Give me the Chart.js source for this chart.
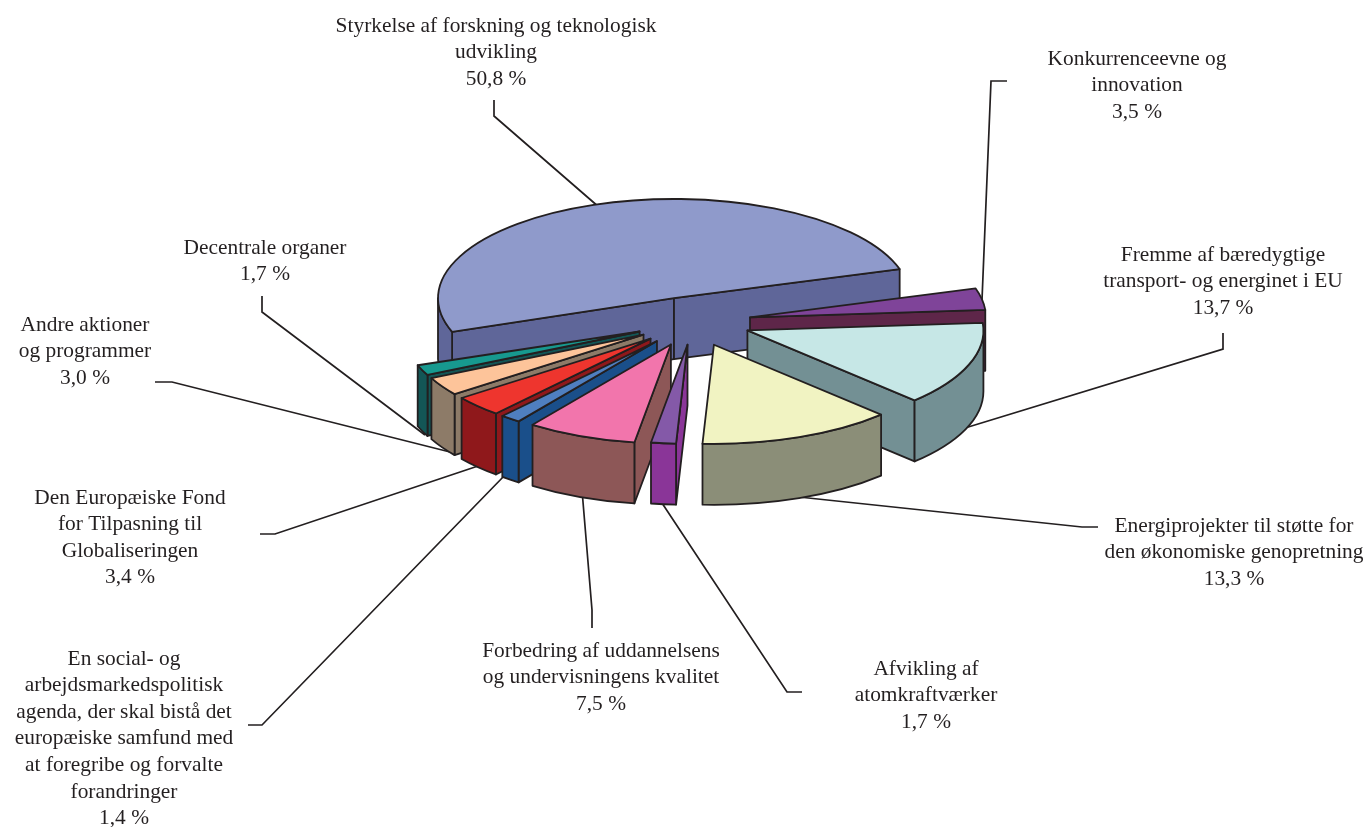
<!DOCTYPE html>
<html>
<head>
<meta charset="utf-8">
<style>
  html,body{margin:0;padding:0;background:#fff}
  canvas{display:block}
</style>
<script src="https://cdn.jsdelivr.net/npm/chart.js@4"></script>
</head>
<body>
<canvas id="pie" width="1372" height="827"></canvas>
<script>
const categories = [
  ["Styrkelse af forskning og teknologisk", "udvikling"],
  ["Konkurrenceevne og", "innovation"],
  ["Fremme af bæredygtige", "transport- og energinet i EU"],
  ["Energiprojekter til støtte for", "den økonomiske genopretning"],
  ["Afvikling af", "atomkraftværker"],
  ["Forbedring af uddannelsens", "og undervisningens kvalitet"],
  ["En social- og", "arbejdsmarkedspolitisk", "agenda, der skal bistå det", "europæiske samfund med", "at foregribe og forvalte", "forandringer"],
  ["Den Europæiske Fond", "for Tilpasning til", "Globaliseringen"],
  ["Andre aktioner", "og programmer"],
  ["Decentrale organer"]
]
const values = [50.8, 3.5, 13.7, 13.3, 1.7, 7.5, 1.4, 3.4, 3.0, 1.7]
const valueLabels = ["50,8 %", "3,5 %", "13,7 %", "13,3 %", "1,7 %", "7,5 %", "1,4 %", "3,4 %", "3,0 %", "1,7 %"]

// styles
const topColors = ["#8f9acb", "#7f4499", "#c6e7e6", "#f1f3c2", "#8459a8", "#f275ac", "#4f7fc0", "#ee352e", "#fdc49a", "#17998f"]
const sideColors = ["#5f6699", "#5e2649", "#739094", "#8b8e78", "#8a3598", "#8d5757", "#1a4f8a", "#8f181b", "#8d7b68", "#135656"]
const pull = [60, 58, 58, 58, 54, 58, 58, 58, 58, 58]

// layout of the annotations: x of the text centre, y of the first line, leader line
const labelX = [496, 1137, 1223, 1234, 926, 601, 124, 130, 85, 265]
const labelY = [26, 59, 255, 526, 669, 651, 659, 498, 325, 248]
const leaders = [
  [[494, 100], [494, 116], [600, 208]],
  [[1007, 81], [991, 81], [982, 300]],
  [[1223, 333], [1223, 349], [965, 428]],
  [[1098, 527], [1082, 527], [780, 495]],
  [[802, 692], [787, 692], [660, 500]],
  [[592, 628], [592, 610], [582, 490]],
  [[248, 725], [262, 725], [505, 475]],
  [[260, 534], [275, 534], [490, 462]],
  [[155, 382], [172, 382], [450, 452]],
  [[262, 296], [262, 312], [425, 435]]
]

const radius = 236
const tilt = 0.42
const depth = 61
const ink = "#231f20"
const textFont = '21.4px "Liberation Serif"'
const lineHeight = 26.6

let centreY = 0

function apexOf(arc){
  return {x: arc.x, y: centreY + (arc.y - centreY) * tilt}
}

function drawFace(ctx, p, angle){
  const x = p.x + Math.cos(angle) * radius
  const y = p.y + Math.sin(angle) * radius * tilt
  ctx.beginPath()
  ctx.moveTo(p.x, p.y)
  ctx.lineTo(x, y)
  ctx.lineTo(x, y + depth)
  ctx.lineTo(p.x, p.y + depth)
  ctx.closePath()
  ctx.fill()
  ctx.stroke()
}

function drawOuterWall(ctx, p, from, to){
  ctx.beginPath()
  ctx.ellipse(p.x, p.y, radius, radius * tilt, 0, from, to)
  ctx.ellipse(p.x, p.y + depth, radius, radius * tilt, 0, to, from, true)
  ctx.closePath()
  ctx.fill()
  ctx.stroke()
}

const pie3d = {
  id: "pie3d",
  afterDatasetsUpdate(chart){
    // pull every slice out along its middle angle
    const area = chart.chartArea
    const cx = (area.left + area.right) / 2
    centreY = (area.top + area.bottom) / 2
    chart.getDatasetMeta(0).data.forEach(function(arc, i){
      const half = (arc.startAngle + arc.endAngle) / 2
      arc.x = cx + Math.cos(half) * pull[i]
      arc.y = centreY + Math.sin(half) * pull[i]
    })
  },
  beforeDatasetsDraw(chart){
    const ctx = chart.ctx
    const arcs = chart.getDatasetMeta(0).data

    ctx.save()
    ctx.strokeStyle = ink
    ctx.lineWidth = 1.7
    leaders.forEach(function(pts){
      ctx.beginPath()
      pts.forEach(function(pt, i){
        if(i == 0){ ctx.moveTo(pt[0], pt[1]) }
        else{ ctx.lineTo(pt[0], pt[1]) }
      })
      ctx.stroke()
    })

    // walls, from the back of the pie to the front
    const order = arcs.map(function(arc, i){ return i })
    order.sort(function(a, b){
      const ma = (arcs[a].startAngle + arcs[a].endAngle) / 2
      const mb = (arcs[b].startAngle + arcs[b].endAngle) / 2
      return Math.sin(ma) - Math.sin(mb)
    })
    ctx.lineWidth = 1.8
    ctx.lineJoin = "round"
    order.forEach(function(i){
      const arc = arcs[i]
      const p = apexOf(arc)
      const s = ((arc.startAngle % (2 * Math.PI)) + 2 * Math.PI) % (2 * Math.PI)
      const e = s + arc.circumference
      ctx.fillStyle = sideColors[i]
      if(Math.cos(s) < 0){ drawFace(ctx, p, s) }
      if(Math.cos(e) > 0){ drawFace(ctx, p, e) }
      ;[[0, Math.PI], [2 * Math.PI, 3 * Math.PI]].forEach(function(r){
        const from = Math.max(s, r[0])
        const to = Math.min(e, r[1])
        if(to > from){ drawOuterWall(ctx, p, from, to) }
      })
    })
    ctx.restore()

    // the arcs themselves are laid flat by squashing y round the centre
    ctx.save()
    ctx.translate(0, centreY)
    ctx.scale(1, tilt)
    ctx.translate(0, -centreY)
  },
  afterDatasetsDraw(chart){
    const ctx = chart.ctx
    ctx.restore()
    ctx.save()
    ctx.strokeStyle = ink
    ctx.lineWidth = 1.8
    ctx.lineJoin = "round"
    chart.getDatasetMeta(0).data.forEach(function(arc){
      const p = apexOf(arc)
      ctx.beginPath()
      ctx.moveTo(p.x, p.y)
      ctx.ellipse(p.x, p.y, radius, radius * tilt, 0, arc.startAngle, arc.endAngle)
      ctx.closePath()
      ctx.stroke()
    })
    ctx.restore()
  },
  afterDraw(chart){
    const ctx = chart.ctx
    ctx.save()
    ctx.font = textFont
    ctx.fillStyle = ink
    ctx.textAlign = "center"
    ctx.textBaseline = "middle"
    categories.forEach(function(lines, i){
      lines.concat(valueLabels[i]).forEach(function(line, n){
        ctx.fillText(line, labelX[i], labelY[i] + n * lineHeight)
      })
    })
    ctx.restore()
  }
}

const myChart = new Chart(document.getElementById("pie").getContext("2d"), {
  type: "pie",
  data: {
    labels: categories.map(function(c){ return c.join(" ") }),
    datasets: [{
      data: values,
      backgroundColor: topColors,
      borderWidth: 0
    }]
  },
  options: {
    responsive: false,
    animation: false,
    events: [],
    rotation: 250.1,
    radius: radius,
    layout: {padding: {left: 14, bottom: 183}},
    plugins: {legend: {display: false}, tooltip: {enabled: false}}
  },
  plugins: [pie3d]
})
</script>
</body>
</html>
